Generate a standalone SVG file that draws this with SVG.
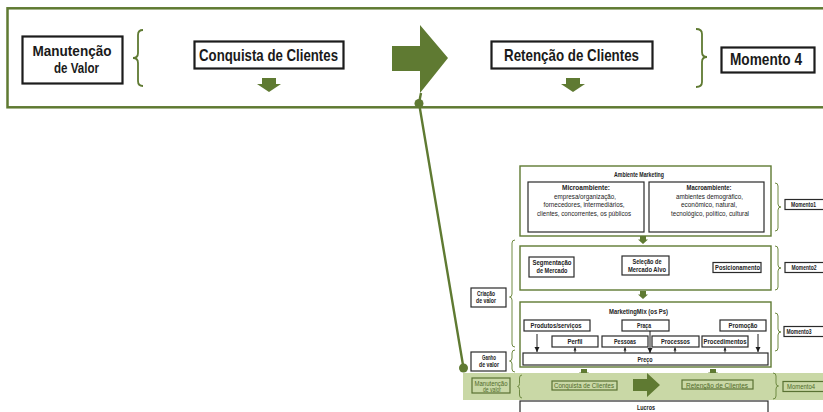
<svg xmlns="http://www.w3.org/2000/svg" xmlns:xlink="http://www.w3.org/1999/xlink" width="823" height="412" viewBox="0 0 823 412">
  <style>
    .frame { fill: none; stroke: #5f7a32; stroke-width: 2.5; }
    .gbox { fill: #ffffff; stroke: #5f7a32; stroke-width: 1.4; }
    .kbox { fill: #ffffff; stroke: #1c1c1c; stroke-width: 2.2; }
    .sbox { fill: #ffffff; stroke: #2a2a2a; stroke-width: 1.2; }
    .bbox { fill: none; stroke: #5a7233; stroke-width: 1.2; }
    .brace { fill: none; stroke: #5f7a32; stroke-width: 1.8; }
    .sbrace { fill: none; stroke: #6f8a42; stroke-width: 1; }
    .fill { fill: #5f7a32; }
    .band { fill: #c9d8a6; }
    .link { fill: none; stroke: #5f7a32; stroke-width: 2.4; }
    .thin { fill: none; stroke: #1c1c1c; stroke-width: 1; }
    text { font-family: "Liberation Sans", Arial, sans-serif; text-anchor: middle; }
    .big { font-size: 17px; font-weight: bold; fill: #1a1a1a; }
    .big2 { font-size: 14px; font-weight: bold; fill: #1a1a1a; }
    .sm { font-size: 6.5px; fill: #222222; }
    .smb { font-size: 6.5px; font-weight: bold; fill: #222222; }
    .gt { font-size: 6.5px; fill: #4f6a28; }
  </style>
  <defs>
    <path id="sarr" d="M-3,0 H3 V3.5 H5 L0,8 L-5,3.5 H-3 Z"/>
    <marker id="ah" markerWidth="6" markerHeight="6" refX="5" refY="3" orient="auto" markerUnits="userSpaceOnUse">
      <path d="M0,0.5 L5,3 L0,5.5 Z" fill="#1c1c1c"/>
    </marker>
    <marker id="ahs" markerWidth="4" markerHeight="4" refX="3" refY="2" orient="auto" markerUnits="userSpaceOnUse">
      <path d="M0,0.5 L3,2 L0,3.5 Z" fill="#1c1c1c"/>
    </marker>
  </defs>

  <!-- Top strip: value maintenance stage -->
  <g id="top-frame">
    <rect class="frame" x="7.5" y="8.3" width="830" height="99"/>
  </g>
  <g id="top-manutencao">
    <rect class="kbox" x="22.5" y="36.5" width="100" height="47"/>
    <text class="big2" x="72" y="56" textLength="79" lengthAdjust="spacingAndGlyphs">Manutenção</text>
    <text class="big2" x="76.5" y="72.5" textLength="45" lengthAdjust="spacingAndGlyphs">de Valor</text>
  </g>
  <g id="top-brace-left">
    <path class="brace" d="M143,30 Q138,30 138,35 L138,53 Q138,58 133,58 Q138,58 138,63 L138,81 Q138,86 143,86"/>
  </g>
  <g id="top-conquista">
    <rect class="kbox" x="194.5" y="41.5" width="149" height="27"/>
    <text class="big" x="268.5" y="61" textLength="139" lengthAdjust="spacingAndGlyphs">Conquista de Clientes</text>
    <path class="fill" d="M262,78 H276 V84 H281 L269,92 L257,84 H262 Z"/>
  </g>
  <g id="top-arrow">
    <path class="fill" d="M392,46 H420 V25 L448,58 L420,93 V71 H392 Z"/>
  </g>
  <g id="top-retencao">
    <rect class="kbox" x="491.5" y="41.5" width="161" height="27"/>
    <text class="big" x="571.5" y="61" textLength="135" lengthAdjust="spacingAndGlyphs">Retenção de Clientes</text>
    <path class="fill" d="M566,78 H580 V84 H585 L573,92 L561,84 H566 Z"/>
  </g>
  <g id="top-brace-right">
    <path class="brace" d="M696,29 Q702,29 702,34 L702,52 Q702,57 707,57 Q702,57 702,62 L702,82 Q702,87 696,87"/>
  </g>
  <g id="top-momento4">
    <rect class="kbox" x="721.5" y="47.5" width="93" height="25"/>
    <text class="big" x="766" y="65" textLength="72" lengthAdjust="spacingAndGlyphs">Momento 4</text>
  </g>

  <!-- Link from the top strip to its place in the full process -->
  <g id="connectors">
    <polyline class="link" points="421,93 419,103 463.5,368"/>
    <circle class="fill" cx="419" cy="103.5" r="4.5"/>
    <circle class="fill" cx="463.5" cy="368" r="4.5"/>
    <use xlink:href="#sarr" href="#sarr" class="fill" x="643" y="236"/>
    <use xlink:href="#sarr" href="#sarr" class="fill" x="643" y="291"/>
    <use xlink:href="#sarr" href="#sarr" class="fill" x="584" y="369"/>
    <use xlink:href="#sarr" href="#sarr" class="fill" x="713" y="369"/>
    <use xlink:href="#sarr" href="#sarr" class="fill" x="584" y="392"/>
    <use xlink:href="#sarr" href="#sarr" class="fill" x="713" y="392"/>
  </g>

  <!-- Momento 1: marketing environment -->
  <g id="ambiente">
    <rect class="gbox" x="520" y="166" width="251" height="70"/>
    <text class="smb" x="639" y="177" textLength="50" lengthAdjust="spacingAndGlyphs">Ambiente Marketing</text>
  </g>
  <g id="micro">
    <rect class="sbox" x="528" y="182" width="116" height="50"/>
    <text class="smb" x="586" y="190" textLength="48" lengthAdjust="spacingAndGlyphs">Microambiente:</text>
    <text class="sm" x="585" y="198.5" textLength="62" lengthAdjust="spacingAndGlyphs">empresa/organização,</text>
    <text class="sm" x="584" y="207" textLength="81" lengthAdjust="spacingAndGlyphs">fornecedores, intermediários,</text>
    <text class="sm" x="584" y="215.5" textLength="94" lengthAdjust="spacingAndGlyphs">clientes, concorrentes, os públicos</text>
  </g>
  <g id="macro">
    <rect class="sbox" x="649" y="182" width="115" height="50"/>
    <text class="smb" x="709" y="190" textLength="45" lengthAdjust="spacingAndGlyphs">Macroambiente:</text>
    <text class="sm" x="709.5" y="198.5" textLength="67" lengthAdjust="spacingAndGlyphs">ambientes demográfico,</text>
    <text class="sm" x="709" y="207" textLength="56" lengthAdjust="spacingAndGlyphs">econômico, natural,</text>
    <text class="sm" x="710" y="215.5" textLength="78" lengthAdjust="spacingAndGlyphs">tecnológico, político, cultural</text>
  </g>
  <g id="momento1">
    <path class="sbrace" d="M775,183 Q778,183 778,186 L778,204 Q778,207 781,207 Q778,207 778,210 L778,228 Q778,231 775,231"/>
    <rect class="sbox" x="785" y="199.5" width="45" height="10"/>
    <text class="smb" x="803.5" y="207" textLength="25" lengthAdjust="spacingAndGlyphs">Momento1</text>
  </g>

  <!-- Momento 2: segmentation, targeting, positioning -->
  <g id="stp">
    <rect class="gbox" x="520" y="246" width="251" height="44"/>
  </g>
  <g id="segmentacao">
    <rect class="sbox" x="529" y="257" width="45" height="20"/>
    <text class="smb" x="552" y="265" textLength="39" lengthAdjust="spacingAndGlyphs">Segmentação</text>
    <text class="smb" x="552" y="272.5" textLength="31" lengthAdjust="spacingAndGlyphs">de Mercado</text>
  </g>
  <g id="selecao">
    <rect class="sbox" x="622" y="256" width="47" height="19"/>
    <text class="smb" x="647" y="264" textLength="29" lengthAdjust="spacingAndGlyphs">Seleção de</text>
    <text class="smb" x="647" y="271.5" textLength="38" lengthAdjust="spacingAndGlyphs">Mercado Alvo</text>
  </g>
  <g id="posicionamento">
    <rect class="sbox" x="713" y="262.5" width="48" height="10"/>
    <text class="smb" x="737.5" y="270" textLength="45" lengthAdjust="spacingAndGlyphs">Posicionamento</text>
  </g>
  <g id="momento2">
    <path class="sbrace" d="M775,246 Q778,246 778,249 L778,265 Q778,268 781,268 Q778,268 778,271 L778,287 Q778,290 775,290"/>
    <rect class="sbox" x="785" y="262.5" width="45" height="10"/>
    <text class="smb" x="804" y="270" textLength="25" lengthAdjust="spacingAndGlyphs">Momento2</text>
  </g>

  <!-- Momento 3: marketing mix -->
  <g id="mix">
    <rect class="gbox" x="520" y="302" width="251" height="65"/>
    <text class="smb" x="638.5" y="313.5" textLength="59" lengthAdjust="spacingAndGlyphs">MarketingMix (os Ps)</text>
  </g>
  <g id="produtos">
    <rect class="sbox" x="524" y="320" width="66" height="11"/>
    <text class="smb" x="556" y="328" textLength="51" lengthAdjust="spacingAndGlyphs">Produtos/serviços</text>
  </g>
  <g id="praca">
    <rect class="sbox" x="622" y="320" width="47" height="11"/>
    <text class="smb" x="644" y="328" textLength="14" lengthAdjust="spacingAndGlyphs">Praça</text>
  </g>
  <g id="promocao">
    <rect class="sbox" x="720" y="320" width="46" height="11"/>
    <text class="smb" x="743" y="328" textLength="29" lengthAdjust="spacingAndGlyphs">Promoção</text>
  </g>
  <g id="perfil">
    <rect class="sbox" x="552" y="336" width="46" height="11"/>
    <text class="smb" x="575" y="344" textLength="15" lengthAdjust="spacingAndGlyphs">Perfil</text>
  </g>
  <g id="pessoas">
    <rect class="sbox" x="602" y="336" width="46" height="11"/>
    <text class="smb" x="625" y="344" textLength="22" lengthAdjust="spacingAndGlyphs">Pessoas</text>
  </g>
  <g id="processos">
    <rect class="sbox" x="652" y="336" width="47" height="11"/>
    <text class="smb" x="675.5" y="344" textLength="29" lengthAdjust="spacingAndGlyphs">Processos</text>
  </g>
  <g id="procedimentos">
    <rect class="sbox" x="702" y="336" width="46" height="11"/>
    <text class="smb" x="725" y="344" textLength="43" lengthAdjust="spacingAndGlyphs">Procedimentos</text>
  </g>
  <g id="preco">
    <rect class="sbox" x="523" y="353" width="245" height="12"/>
    <text class="smb" x="645" y="361.5" textLength="15" lengthAdjust="spacingAndGlyphs">Preço</text>
  </g>
  <g id="mix-links">
    <line class="thin" x1="537" y1="334" x2="537" y2="352" marker-end="url(#ah)"/>
    <line class="thin" x1="758" y1="334" x2="758" y2="352" marker-end="url(#ah)"/>
    <line class="thin" x1="650" y1="331" x2="650" y2="353" marker-end="url(#ah)"/>
    <line class="thin" x1="575" y1="352.5" x2="575" y2="347.5" marker-end="url(#ahs)"/>
    <line class="thin" x1="625" y1="352.5" x2="625" y2="347.5" marker-end="url(#ahs)"/>
    <line class="thin" x1="675" y1="352.5" x2="675" y2="347.5" marker-end="url(#ahs)"/>
    <line class="thin" x1="725" y1="352.5" x2="725" y2="347.5" marker-end="url(#ahs)"/>
  </g>
  <g id="momento3">
    <path class="sbrace" d="M775,313 Q778,313 778,316 L778,329 Q778,332 781,332 Q778,332 778,335 L778,348 Q778,351 775,351"/>
    <rect class="sbox" x="784" y="326.5" width="45" height="10"/>
    <text class="smb" x="799" y="334" textLength="25" lengthAdjust="spacingAndGlyphs">Momento3</text>
  </g>

  <!-- Value creation / value gain labels -->
  <g id="criacao">
    <rect class="sbox" x="471" y="288" width="35" height="19"/>
    <text class="smb" x="486" y="295.5" textLength="18" lengthAdjust="spacingAndGlyphs">Criação</text>
    <text class="smb" x="486" y="303" textLength="20" lengthAdjust="spacingAndGlyphs">de valor</text>
    <path class="sbrace" d="M515,240 Q512,240 512,243 L512,294 Q512,297 509.5,297 Q512,297 512,300 L512,344 Q512,347 515,347"/>
  </g>
  <g id="ganho">
    <rect class="sbox" x="471" y="352" width="35" height="19"/>
    <text class="smb" x="489" y="359.5" textLength="14" lengthAdjust="spacingAndGlyphs">Ganho</text>
    <text class="smb" x="489" y="367" textLength="20" lengthAdjust="spacingAndGlyphs">de valor</text>
    <path class="sbrace" d="M515,350 Q512,350 512,353 L512,358 Q512,361 509.5,361 Q512,361 512,364 L512,369 Q512,372 515,372"/>
  </g>

  <!-- Momento 4: highlighted band -->
  <g id="band">
    <rect class="band" x="463" y="373" width="360" height="27"/>
  </g>
  <g id="band-manutencao">
    <rect class="bbox" x="472" y="378" width="38" height="15"/>
    <text class="gt" x="491" y="385.5" textLength="33" lengthAdjust="spacingAndGlyphs">Manutenção</text>
    <text class="gt" x="492" y="391.5" textLength="18" lengthAdjust="spacingAndGlyphs">de valor</text>
    <path class="sbrace" d="M522,375 Q519.5,375 519.5,378 L519.5,383.5 Q519.5,386.5 517.5,386.5 Q519.5,386.5 519.5,389.5 L519.5,395 Q519.5,398 522,398"/>
  </g>
  <g id="band-conquista">
    <rect class="bbox" x="552" y="381" width="65" height="9"/>
    <text class="gt" x="584" y="388" textLength="60" lengthAdjust="spacingAndGlyphs">Conquista de Clientes</text>
  </g>
  <g id="band-arrow">
    <path class="fill" d="M633,379 H647 V373 L660,385 L647,397 V391 H633 Z"/>
  </g>
  <g id="band-retencao">
    <rect class="bbox" x="682" y="380" width="71" height="9"/>
    <text class="gt" x="717" y="387.5" textLength="62" lengthAdjust="spacingAndGlyphs">Retenção de Clientes</text>
  </g>
  <g id="band-momento4">
    <path class="sbrace" d="M773,373 Q776,373 776,376 L776,383 Q776,386 778.5,386 Q776,386 776,389 L776,396 Q776,399 773,399"/>
    <rect class="bbox" x="783" y="381.5" width="45" height="10"/>
    <text class="gt" x="801" y="389" textLength="28" lengthAdjust="spacingAndGlyphs">Momento4</text>
  </g>

  <!-- Outcome -->
  <g id="lucros">
    <rect class="sbox" x="520" y="401" width="248" height="15"/>
    <text class="smb" x="646" y="409.5" textLength="18" lengthAdjust="spacingAndGlyphs">Lucros</text>
  </g>
</svg>
